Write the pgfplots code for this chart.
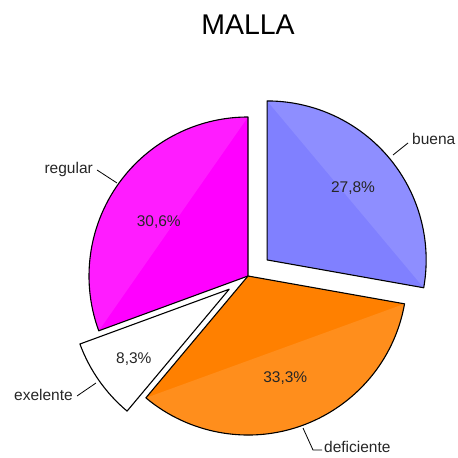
\documentclass[border=0pt]{standalone}
\usepackage{fontspec}
\setmainfont{Liberation Sans}
\usepackage{pgfplots}
\pgfplotsset{compat=1.18}
\usetikzlibrary{calc}
\definecolor{cbuena}{HTML}{8080FF}
\definecolor{cdef}{HTML}{FF8000}
\definecolor{creg}{HTML}{FF00FF}

% values (percent)
\def\vbuena{27.8}
\def\vdef{33.3}
\def\vexe{8.3}
\def\vreg{30.6}

% one wedge: start, end, colour, explode angle, explode distance
\newcommand\slice[5]{%
  \begin{scope}[shift={(#4:#5pt)}]
    \fill[#3] (axis cs:248,182) -- ++(#1:159pt) arc[start angle=#1,end angle=#2,radius=159pt] -- cycle;
    \fill[#3!89!white] (axis cs:248,182) ++(#1:159pt) arc[start angle=#1,end angle=#2,radius=159pt] -- cycle;
    \draw[line width=1.1pt,line join=round] (axis cs:248,182) -- ++(#1:159pt) arc[start angle=#1,end angle=#2,radius=159pt] -- cycle;
  \end{scope}}

\begin{document}
\begin{tikzpicture}[lab/.style={font=\fontsize{15.5}{17}\selectfont, text=black!85, inner sep=1pt}]
\pgfmathsetmacro\aA{90}
\pgfmathsetmacro\aB{\aA-3.6*\vbuena}
\pgfmathsetmacro\aC{\aB-3.6*\vdef}
\pgfmathsetmacro\aD{\aC-3.6*\vexe}
\pgfmathsetmacro\aE{\aD-3.6*\vreg}
\pgfmathsetmacro\mA{(\aA+\aB)/2}
\pgfmathsetmacro\mB{(\aB+\aC)/2}
\pgfmathsetmacro\mC{(\aC+\aD)/2}
\pgfmathsetmacro\mD{(\aD+\aE)/2}
\begin{axis}[
  width=458pt, height=458pt, scale only axis,
  xmin=0, xmax=458, ymin=0, ymax=458,
  axis lines=none, ticks=none, clip=false,
]
\coordinate (sw) at (axis cs:0,0);
\coordinate (ne) at (axis cs:458,458);

\slice{\aA}{\aB}{cbuena}{\mA}{25}
\slice{\aB}{\aC}{cdef}{0}{0}
\slice{\aC}{\aD}{white}{\mC}{23}
\slice{\aD}{\aE}{creg}{0}{0}

% percentages
\node[lab] at ($(axis cs:248,182)+(\mA:25pt)+(\mA:112pt)$) {27,8\%};
\node[lab] at ($(axis cs:248,182)+(\mB:109pt)$) {33,3\%};
\node[lab] at ($(axis cs:248,182)+(\mC:23pt)+(\mC+1:118pt)$) {8,3\%};
\node[lab] at ($(axis cs:248,182)+(\mD+4:104pt)$) {30,6\%};

% category labels with leader lines
\draw[line width=0.8pt] (axis cs:393,303) -- (axis cs:408,315);
\node[lab,anchor=west] at (axis cs:411,319) {buena};
\draw[line width=0.8pt] (axis cs:117,275) -- (axis cs:97,288);
\node[lab,anchor=east] at (axis cs:94,289) {regular};
\draw[line width=0.8pt] (axis cs:96,75) -- (axis cs:77,62);
\node[lab,anchor=east] at (axis cs:74,63) {exelente};
\draw[line width=0.8pt] (axis cs:303,30) -- (axis cs:313,8) -- (axis cs:322,8);
\node[lab,anchor=west] at (axis cs:323,11) {deficiente};

\node[font=\fontsize{28.5}{32}\selectfont, text=black] at (axis cs:248,433) {MALLA};
\end{axis}
\pgfresetboundingbox
\path (sw) rectangle (ne);
\end{tikzpicture}
\end{document}
